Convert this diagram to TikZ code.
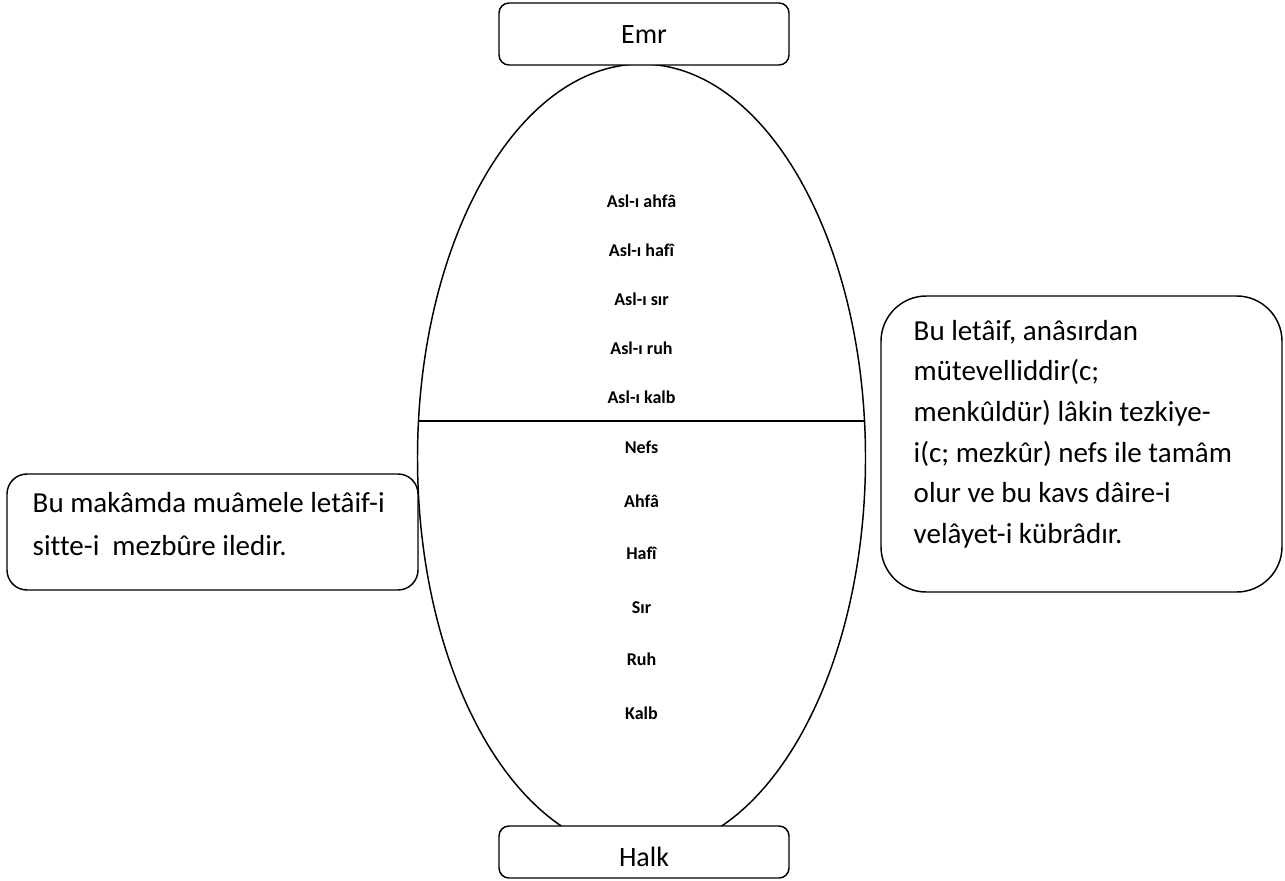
\documentclass[tikz,border=0pt]{standalone}
\usepackage{fontspec}
\setmainfont{Carlito}[Ligatures=NoCommon]
\usetikzlibrary{shapes.geometric}
\begin{document}
\begin{tikzpicture}[x=0.75pt,y=-0.75pt,line width=1.1pt,
  endbox/.style={draw,fill=white,rounded corners=7.5pt,minimum width=217.5pt,inner sep=0pt,font=\fontsize{21}{25}\selectfont},
  sidebox/.style={draw,fill=white,inner sep=0pt},
  layer/.style={font=\bfseries\fontsize{13.5}{16}\selectfont,anchor=base,inner sep=0pt},
  sidetext/.style={anchor=base west,inner sep=0pt}]
\useasboundingbox (0,0) rectangle (1285,881);
% ellipse
\node[draw,ellipse,minimum width=336pt,minimum height=591pt,inner sep=0pt,outer sep=0pt] (ell) at (641.5,458) {};
\coordinate (dl) at (418.5,421);
\coordinate (dr) at (864.5,421);
\draw (dl) -- (dr);
% layers
\node[layer] (a1) at (641.5,207) {Asl-ı ahfâ};
\node[layer] (a2) at (641.5,256) {Asl-ı hafî};
\node[layer] (a3) at (641.5,305) {Asl-ı sır};
\node[layer] (a4) at (641.5,354) {Asl-ı ruh};
\node[layer] (a5) at (641.5,403) {Asl-ı kalb};
\node[layer] (b1) at (641.5,453) {Nefs};
\node[layer] (b2) at (641.5,507) {Ahfâ};
\node[layer] (b3) at (641.5,559) {Hafî};
\node[layer] (b4) at (641.5,613) {Sır};
\node[layer] (b5) at (641.5,665) {Ruh};
\node[layer] (b6) at (641.5,719) {Kalb};
% top and bottom boxes
\node[endbox,minimum height=46.5pt,text height=15pt,text depth=0pt] (emr) at (644,34) {Emr};
\node[endbox,minimum height=39pt,text height=21pt,text depth=0pt] (halk) at (644,852) {Halk};
% side boxes
\node[sidebox,rounded corners=15pt,minimum width=308.25pt,minimum height=87pt] (lbox) at (212.5,532) {};
\node[sidebox,rounded corners=34pt,minimum width=300.75pt,minimum height=222pt] (rbox) at (1081.5,444) {};
\node[sidetext] (ltext) at (32,512) {\fontsize{21.75}{32.5}\selectfont\begin{tabular}[t]{@{}l@{}}Bu makâmda muâmele letâif-i\\ sitte-i~ mezbûre iledir.\end{tabular}};
\node[sidetext] (rtext) at (913,340) {\fontsize{21.75}{30.5}\selectfont\begin{tabular}[t]{@{}l@{}}Bu letâif, anâsırdan\\ mütevelliddir(c;\\ menkûldür) lâkin tezkiye-\\ i(c; mezkûr) nefs ile tamâm\\ olur ve bu kavs dâire-i\\ velâyet-i kübrâdır.\end{tabular}};
\end{tikzpicture}
\end{document}
